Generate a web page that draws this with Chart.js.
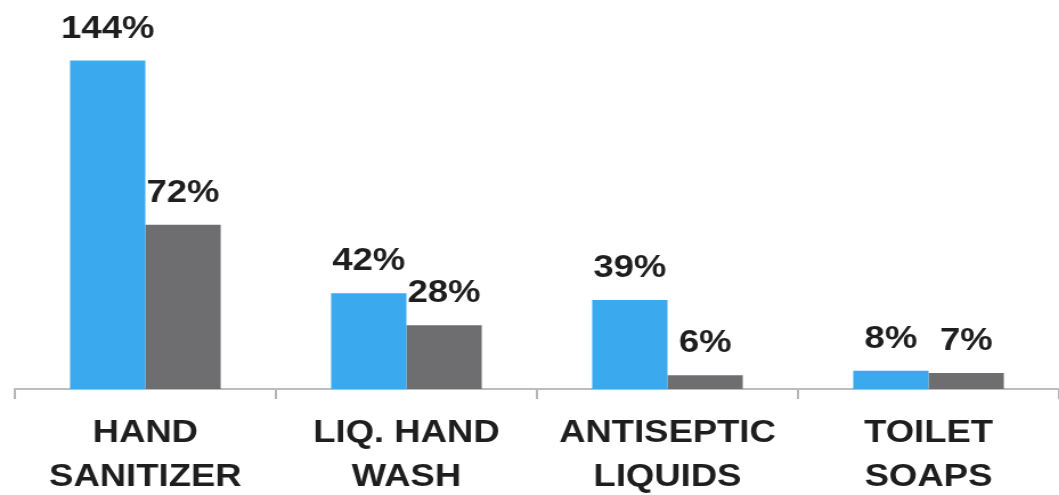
<!DOCTYPE html>
<html>
<head>
<meta charset="utf-8">
<script src="https://cdn.jsdelivr.net/npm/chart.js@4/dist/chart.umd.min.js"></script>
<style>
  html, body { margin: 0; padding: 0; background: #fff; overflow: hidden; }
  #wrap {
    width: 929px;
    height: 495px;
    transform: scaleX(1.14);
    transform-origin: 0 0;
  }
</style>
</head>
<body>
<div id="wrap"><canvas id="chart"></canvas></div>
<script>
// data
const categories = [
  ["HAND", "SANITIZER"],
  ["LIQ. HAND", "WASH"],
  ["ANTISEPTIC", "LIQUIDS"],
  ["TOILET", "SOAPS"],
];
const blueValues = [144, 42, 39, 8];
const grayValues = [72, 28, 6, 7];

const blue = "#3aa9ee";
const gray = "#6e6e70";
const textColor = "#1e1e1e";
const fontFamily = "'Liberation Sans', Arial, sans-serif";

// value labels above each bar
const valueLabels = {
  id: "valueLabels",
  afterDatasetsDraw(chart) {
    const ctx = chart.ctx;
    ctx.save();
    ctx.font = `bold 32px ${fontFamily}`;
    ctx.fillStyle = textColor;
    ctx.textAlign = "center";
    ctx.textBaseline = "alphabetic";
    chart.data.datasets.forEach((ds, i) => {
      const meta = chart.getDatasetMeta(i);
      meta.data.forEach((bar, j) => {
        ctx.fillText(`${ds.data[j]}%`, bar.x, bar.y - 23);
      });
    });
    ctx.restore();
  },
};

new Chart(document.getElementById("chart"), {
  type: "bar",
  data: {
    labels: categories,
    datasets: [
      {
        label: "Series 1",
        data: blueValues,
        backgroundColor: blue,
        barPercentage: 1,
        categoryPercentage: 0.577,
      },
      {
        label: "Series 2",
        data: grayValues,
        backgroundColor: gray,
        barPercentage: 1,
        categoryPercentage: 0.577,
      },
    ],
  },
  options: {
    responsive: true,
    maintainAspectRatio: false,
    animation: false,
    devicePixelRatio: 1,
    layout: { padding: { top: 24, left: 13, right: 0, bottom: -16 } },
    plugins: {
      legend: { display: false },
      tooltip: { enabled: false },
    },
    scales: {
      x: {
        grid: {
          drawOnChartArea: false,
          drawTicks: true,
          tickLength: 10,
          color: "#b5b5b5",
          lineWidth: 2,
        },
        border: { display: true, color: "#bdbdbd", width: 2 },
        ticks: {
          color: textColor,
          padding: 12,
          maxRotation: 0,
          autoSkip: false,
          font: { family: fontFamily, size: 32, weight: "bold", lineHeight: 1.375 },
        },
      },
      y: {
        display: false,
        min: 0,
        max: 160,
      },
    },
  },
  plugins: [valueLabels],
});
</script>
</body>
</html>
